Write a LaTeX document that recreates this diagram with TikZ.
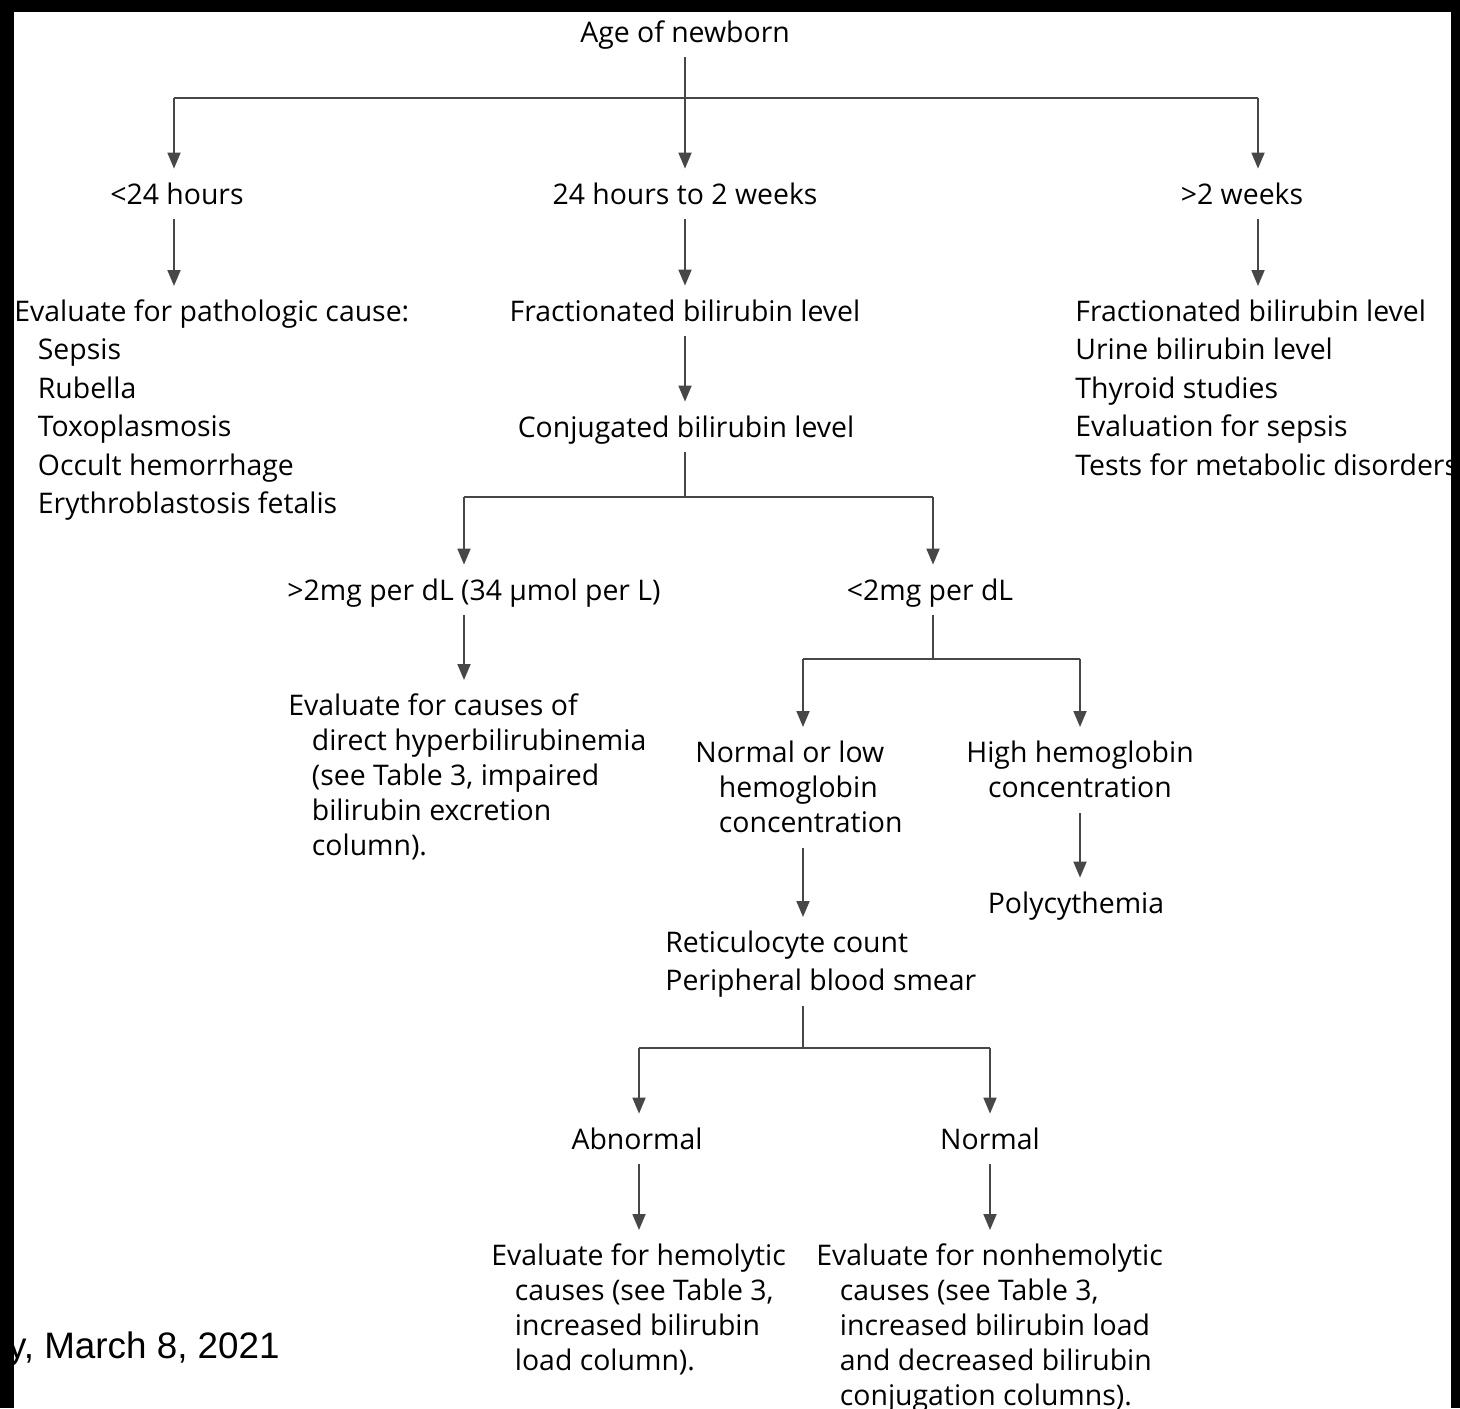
\documentclass[tikz,border=0pt]{standalone}
\usepackage{fontspec}
\setmainfont{Open Sans}
\newfontfamily\datefont{Liberation Sans}
\usetikzlibrary{arrows.meta}
\newcommand\tstrut{\rule{0pt}{11pt}}
\newcommand\bstrut{\rule[-3.5pt]{0pt}{3.5pt}}
\newcommand\ind{\hspace*{11.75pt}}
\begin{document}
\begin{tikzpicture}[x=0.5pt,y=-0.5pt,
  one/.style={inner sep=0pt, anchor=base, font=\fontsize{14.2pt}{19.25pt}\selectfont, text height=11pt, text depth=3.5pt},
  lst/.style={inner sep=0pt, anchor=north west, align=left, font=\fontsize{14.2pt}{19.25pt}\selectfont},
  lstb/.style={inner sep=0pt, anchor=north west, align=left, font=\fontsize{14.2pt}{17.5pt}\selectfont},
  ln/.style={draw=black!72, line width=0.9pt, shorten <=4pt},
  arr/.style={ln, -{Triangle[length=8pt,width=6.5pt]}, shorten >=6.5pt},
  bar/.style={draw=black!72, line width=0.9pt}]
\useasboundingbox (0,0) rectangle (1460,1408);
\fill[white] (0,0) rectangle (1460,1408);

% nodes
\node[one] (age) at (685,42) {Age of newborn};
\node[one] (lt24) at (177,204) {<24 hours};
\node[one] (mid) at (685,204) {24 hours to 2 weeks};
\node[one] (gt2) at (1242,204) {>2 weeks};
\node[lst] (path) at (14,299) {\tstrut Evaluate for pathologic cause:\\ \ind Sepsis\\ \ind Rubella\\ \ind Toxoplasmosis\\ \ind Occult hemorrhage\\ \ind Erythroblastosis fetalis\bstrut};
\node[one] (fract) at (685,321) {Fractionated bilirubin level};
\node[one] (conj) at (686,437) {Conjugated bilirubin level};
\node[lst] (rlist) at (1075,299) {\tstrut Fractionated bilirubin level\\ Urine bilirubin level\\ Thyroid studies\\ Evaluation for sepsis\\ Tests for metabolic disorders\bstrut};
\node[one] (gt2mg) at (474,600) {>2mg per dL (34 µmol per L)};
\node[one] (lt2mg) at (930,600) {<2mg per dL};
\node[lstb] (evdir) at (288,693) {\tstrut Evaluate for causes of\\ \ind direct hyperbilirubinemia\\ \ind (see Table 3, impaired\\ \ind bilirubin excretion\\ \ind column).\bstrut};
\node[lstb] (normlow) at (695,740) {\tstrut Normal or low\\ \ind hemoglobin\\ \ind concentration\bstrut};
\node[lstb, anchor=north, align=center] (high) at (1080,740) {\tstrut High hemoglobin\\ concentration\bstrut};
\node[one] (poly) at (1076,913) {Polycythemia};
\node[lst, font=\fontsize{14.2pt}{19pt}\selectfont] (retic) at (665,930) {\tstrut Reticulocyte count\\ Peripheral blood smear\bstrut};
\node[one] (abn) at (637,1149) {Abnormal};
\node[one] (norm) at (990,1149) {Normal};
\node[lstb] (evhem) at (491,1243) {\tstrut Evaluate for hemolytic\\ \ind causes (see Table 3,\\ \ind increased bilirubin\\ \ind load column).\bstrut};
\node[lstb] (evnon) at (816,1243) {\tstrut Evaluate for nonhemolytic\\ \ind causes (see Table 3,\\ \ind increased bilirubin load\\ \ind and decreased bilirubin\\ \ind conjugation columns).\bstrut};
\node[inner sep=0pt, anchor=base east, font=\datefont\fontsize{18.4pt}{22pt}\selectfont] (date) at (280,1358) {y, March 8, 2021};

% junctions
\coordinate (j1) at (685,98);
\coordinate (j1L) at (174,98);
\coordinate (j1R) at (1258,98);
\coordinate (j2) at (685,497);
\coordinate (j2L) at (464,497);
\coordinate (j2R) at (933,497);
\coordinate (j3) at (933,659);
\coordinate (j3L) at (803,659);
\coordinate (j3R) at (1080,659);
\coordinate (j4) at (803,1048);
\coordinate (j4L) at (639,1048);
\coordinate (j4R) at (990,1048);

% connectors
\draw[ln] (age.south) -- (j1);
\draw[bar] (j1L) -- (j1R);
\draw[arr, shorten <=0pt] (j1L) -- (j1L |- lt24.north);
\draw[arr, shorten <=0pt] (j1) -- (j1 |- mid.north);
\draw[arr, shorten <=0pt] (j1R) -- (j1R |- gt2.north);
\draw[arr] (j1L |- lt24.south) -- (j1L |- path.north);
\draw[arr] (j1 |- mid.south) -- (j1 |- fract.north);
\draw[arr] (j1R |- gt2.south) -- (j1R |- rlist.north);
\draw[arr] (j1 |- fract.south) -- (j1 |- conj.north);
\draw[ln] (j2 |- conj.south) -- (j2);
\draw[bar] (j2L) -- (j2R);
\draw[arr, shorten <=0pt] (j2L) -- (j2L |- gt2mg.north);
\draw[arr, shorten <=0pt] (j2R) -- (j2R |- lt2mg.north);
\draw[arr] (j2L |- gt2mg.south) -- (j2L |- evdir.north);
\draw[ln] (j3 |- lt2mg.south) -- (j3);
\draw[bar] (j3L) -- (j3R);
\draw[arr, shorten <=0pt] (j3L) -- (j3L |- normlow.north);
\draw[arr, shorten <=0pt] (j3R) -- (j3R |- high.north);
\draw[arr] (j3R |- high.south) -- (j3R |- poly.north);
\draw[arr] (j3L |- normlow.south) -- (j3L |- retic.north);
\draw[ln] (j4 |- retic.south) -- (j4);
\draw[bar] (j4L) -- (j4R);
\draw[arr, shorten <=0pt] (j4L) -- (j4L |- abn.north);
\draw[arr, shorten <=0pt] (j4R) -- (j4R |- norm.north);
\draw[arr] (j4L |- abn.south) -- (j4L |- evhem.north);
\draw[arr] (j4R |- norm.south) -- (j4R |- evnon.north);

% frame
\fill[black] (0,0) rectangle (1460,12);
\fill[black] (0,0) rectangle (14,1408);
\fill[black] (1451,0) rectangle (1460,1408);
\end{tikzpicture}
\end{document}
